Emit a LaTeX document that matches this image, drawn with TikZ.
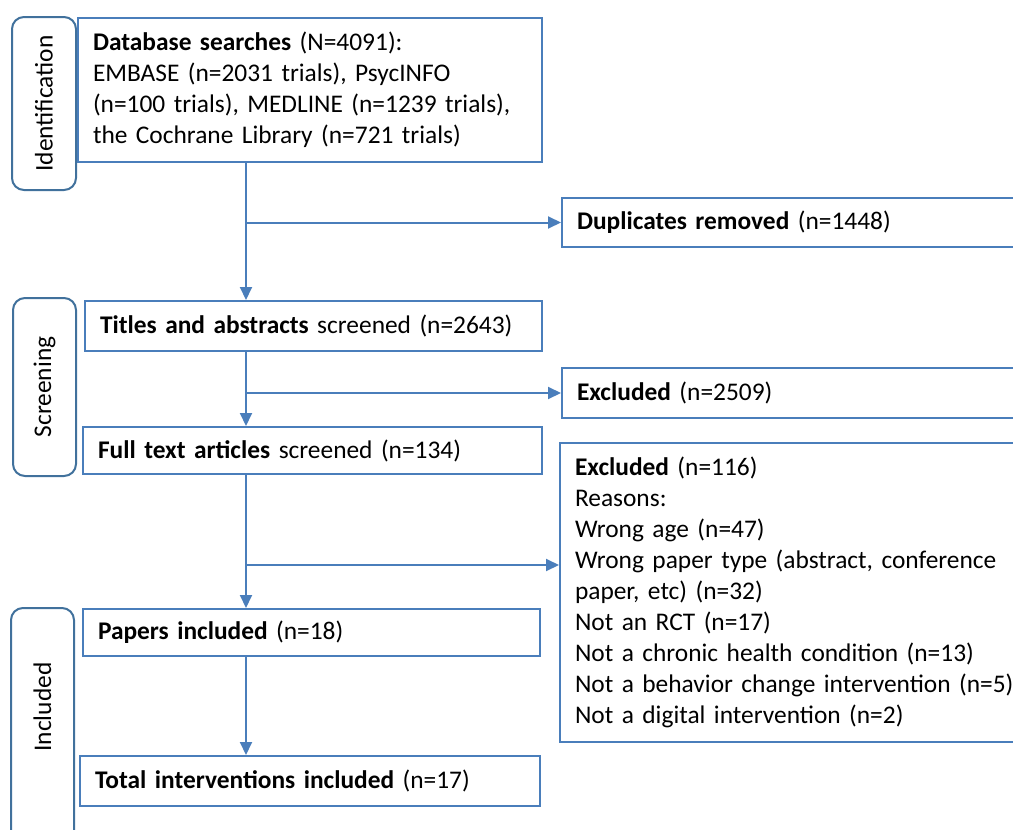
\documentclass[tikz,border=0pt]{standalone}
\usepackage{fontspec}
\setmainfont{Carlito}
\usetikzlibrary{arrows.meta}
\definecolor{boxblue}{HTML}{4A7EBB}
\definecolor{stageblue}{HTML}{41719C}
\newcommand{\flowsize}{\fontsize{12.7pt}{15.5pt}\selectfont}

\begin{document}
\begin{tikzpicture}[x=0.5pt, y=-0.5pt,
  box/.style={draw=boxblue, line width=1pt, inner xsep=7.5pt, inner ysep=0pt, align=left, anchor=north west, font=\flowsize},
  stage/.style={draw=stageblue, line width=1pt, rounded corners=6pt, rotate=90, inner sep=0pt, font=\flowsize},
  arr/.style={draw=boxblue, line width=1pt, -{Triangle[length=6.5pt, width=6pt]}}]
  \useasboundingbox (0,0) rectangle (1013,830);
  \coordinate (sp) at (246,0);
  \coordinate (b3) at (246,565);
  \node[stage, minimum width=86.5pt, minimum height=32pt] (idS) at (44,103.5) {Identification};
  \node[stage, minimum width=89pt, minimum height=31.5pt] (scrS) at (44.5,387) {Screening};
  \node[stage, minimum width=121pt, minimum height=31.5pt] (incS) at (42.5,729) {};
  \node[rotate=90, font=\flowsize, inner sep=0pt] (incL) at (42.5,707) {Included};
  \node[box, text width=217pt, minimum height=72pt] (db) at (77,17)
    {\textbf{Database searches} (N=4091):\\
     EMBASE (n=2031 trials), PsycINFO\\
     (n=100 trials), MEDLINE (n=1239 trials),\\
     the Cochrane Library (n=721 trials)};
  \node[box, text width=224pt, minimum height=24.5pt] (dup) at (561,197) {\textbf{Duplicates removed} (n=1448)};
  \node[box, text width=213.5pt, minimum height=25pt] (titles) at (84,300) {\textbf{Titles and abstracts} screened (n=2643)};
  \node[box, text width=224pt, minimum height=25pt] (ex1) at (561,367) {\textbf{Excluded} (n=2509)};
  \node[box, text width=214.5pt, minimum height=23.5pt] (full) at (82,426) {\textbf{Full text articles} screened (n=134)};
  \node[box, text width=225.5pt, minimum height=149.5pt] (ex2) at (559,442)
    {\textbf{Excluded} (n=116)\\
     Reasons:\\
     Wrong age (n=47)\\
     Wrong paper type (abstract, conference\\
     paper, etc) (n=32)\\
     Not an RCT (n=17)\\
     Not a chronic health condition (n=13)\\
     Not a behavior change intervention (n=5)\\
     Not a digital intervention (n=2)};
  \node[box, text width=213.5pt, minimum height=23.5pt] (papers) at (82,608) {\textbf{Papers included} (n=18)};
  \node[box, text width=215pt, minimum height=25pt] (total) at (79,755) {\textbf{Total interventions included} (n=17)};
  \draw[arr] (db.south -| sp) -- (titles.north -| sp);
  \draw[arr] (dup.west -| sp) -- (dup.west);
  \draw[arr] (titles.south -| sp) -- (full.north -| sp);
  \draw[arr] (ex1.west -| sp) -- (ex1.west);
  \draw[arr] (full.south -| sp) -- (papers.north -| sp);
  \draw[arr] (b3) -- (b3 -| ex2.west);
  \draw[arr] (papers.south -| sp) -- (total.north -| sp);
\end{tikzpicture}
\end{document}
